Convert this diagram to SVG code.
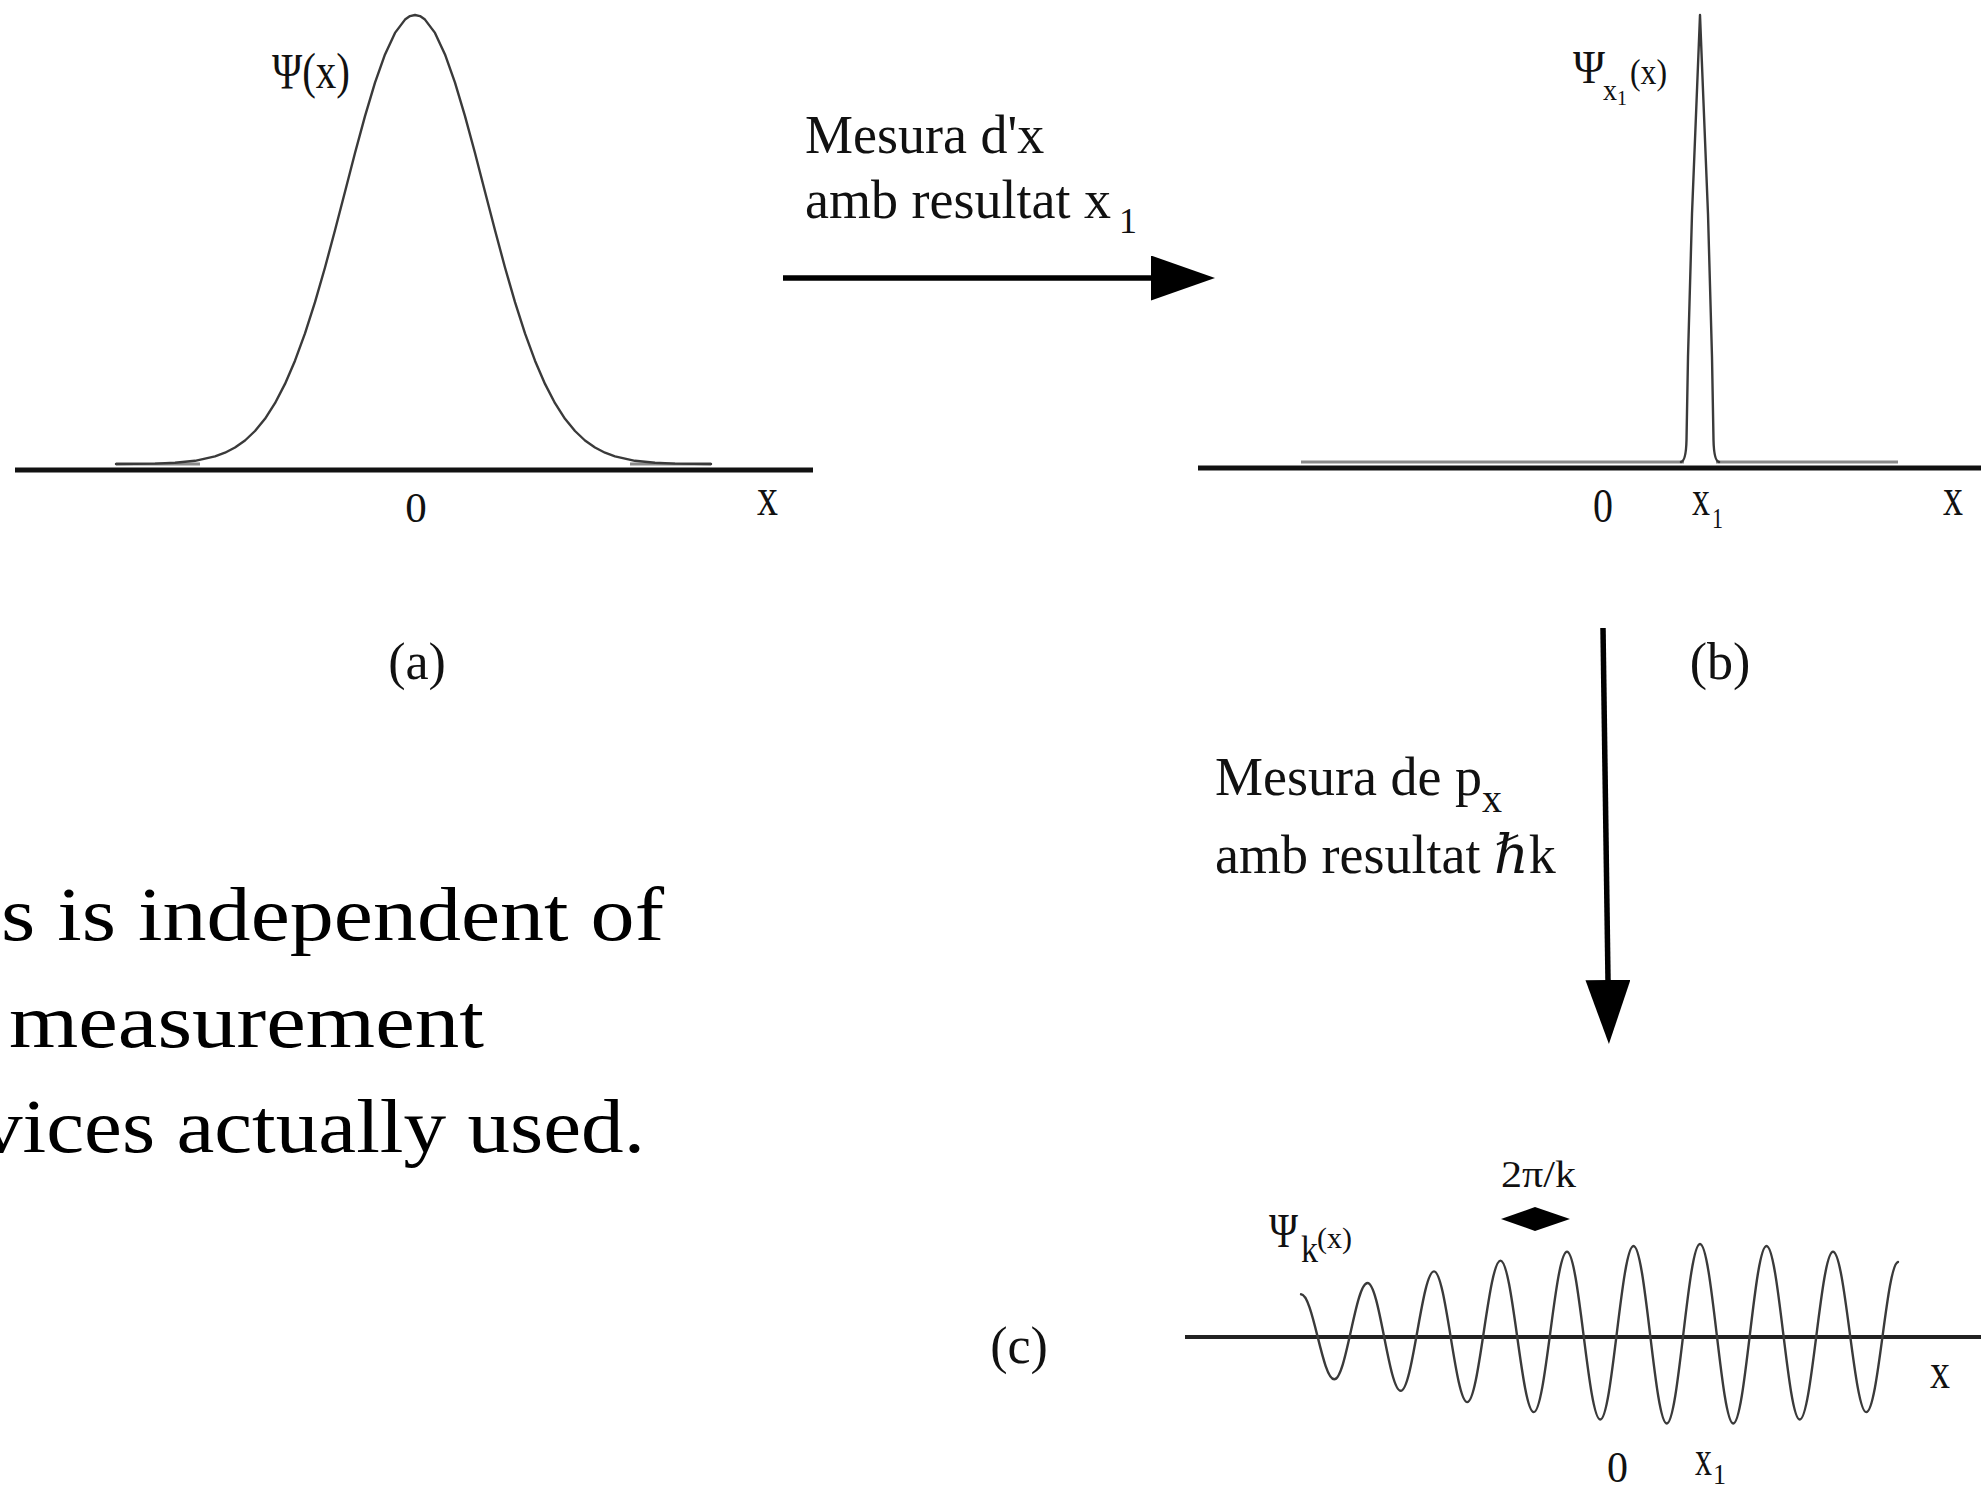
<svg xmlns="http://www.w3.org/2000/svg" width="1981" height="1486" viewBox="0 0 1981 1486">
<defs>
<style>
.t{font-family:"Liberation Serif","Times New Roman","DejaVu Serif",serif;fill:#111}
.body{font-family:"Liberation Serif","DejaVu Serif",serif;fill:#000;font-size:76px}
.axis{stroke:#111;stroke-width:5;fill:none}
.curve{stroke:#3a3a3a;stroke-width:2.4;fill:none;stroke-linejoin:round;stroke-linecap:round}
.tail{stroke:#8a8a8a;stroke-width:3;fill:none}
.arrow{stroke:#000;stroke-width:5.5;fill:none}
.mid{text-anchor:middle}
</style>
<marker id="head" markerUnits="userSpaceOnUse" markerWidth="66" markerHeight="46" refX="0" refY="22.5" orient="auto">
<path d="M0,0 L64,22.5 L0,45 Z" fill="#000"/>
</marker>
</defs>
<rect width="1981" height="1486" fill="#fff"/>

<g id="panel-a">
<line class="axis" x1="15" y1="470" x2="813" y2="470"/>
<line class="tail" x1="116" y1="464" x2="200" y2="464"/>
<line class="tail" x1="630" y1="464" x2="711" y2="464"/>
<polyline class="curve" points="116,464 155,463.6 175,462.7 195,460.8 215,456.4 225,452.7 235,447.5 245,440.5 255,431 265,418.8 275,403.2 285,383.9 295,360.7 305,333.4 315,302.2 325,267.5 335,230.3 345,191.7 355,153 365,116.1 375,82.6 385,54.4 395,32.9 405,19.6 410,16.1 415,15 420,16.1 425,19.6 435,32.9 445,54.4 455,82.6 465,116.1 475,153 485,191.7 495,230.3 505,267.5 515,302.2 525,333.4 535,360.7 545,383.9 555,403.2 565,418.8 575,431 585,440.5 595,447.5 605,452.7 615,456.4 635,460.8 655,462.7 675,463.6 711,464"/>
<text class="t" x="272" y="88" font-size="50" textLength="78" lengthAdjust="spacingAndGlyphs">Ψ(x)</text>
<text class="t mid" x="416" y="522" font-size="43">0</text>
<text class="t" x="757" y="515" font-size="54" textLength="21" lengthAdjust="spacingAndGlyphs">x</text>
<text class="t mid" x="417" y="679" font-size="52">(a)</text>
</g>

<g id="panel-b">
<line class="axis" x1="1198" y1="468" x2="1981" y2="468"/>
<line class="tail" x1="1301" y1="462" x2="1684" y2="462"/>
<line class="tail" x1="1716" y1="462" x2="1898" y2="462"/>
<path class="curve" d="M1681,462 Q1686,461 1686.5,440 L1688,357 L1692,214 L1696.6,100 L1700,15 L1703.4,100 L1708,214 L1712,357 L1713.5,440 Q1714,461 1719,462"/>
<text class="t" x="1573" y="83" font-size="47" textLength="32" lengthAdjust="spacingAndGlyphs">Ψ</text>
<text class="t" x="1603" y="100" font-size="30" textLength="14" lengthAdjust="spacingAndGlyphs">x</text>
<text class="t" x="1617" y="105" font-size="22" textLength="10" lengthAdjust="spacingAndGlyphs">1</text>
<text class="t" x="1630" y="84" font-size="36" textLength="37" lengthAdjust="spacingAndGlyphs">(x)</text>
<text class="t" x="1593" y="522" font-size="48" textLength="20" lengthAdjust="spacingAndGlyphs">0</text>
<text class="t" x="1692" y="515" font-size="51" textLength="18" lengthAdjust="spacingAndGlyphs">x</text>
<text class="t" x="1712" y="528" font-size="30" textLength="11" lengthAdjust="spacingAndGlyphs">1</text>
<text class="t" x="1943" y="515" font-size="54" textLength="20" lengthAdjust="spacingAndGlyphs">x</text>
<text class="t mid" x="1720" y="679" font-size="52">(b)</text>
</g>

<g id="panel-c">
<line class="axis" x1="1185" y1="1337" x2="1981" y2="1337" style="stroke-width:4;stroke:#222"/>
<path class="curve" d="M1301,1294.3 C1313.1,1294.3 1322.2,1379.3 1334.25,1379.3 C1346.3,1379.3 1355.4,1283 1367.5,1283 C1379.6,1283 1388.7,1390.8 1400.75,1390.8 C1412.8,1390.8 1421.9,1271.4 1434,1271.4 C1446.1,1271.4 1455.2,1402.1 1467.25,1402.1 C1479.3,1402.1 1488.4,1260.6 1500.5,1260.6 C1512.6,1260.6 1521.7,1412.1 1533.75,1412.1 C1545.8,1412.1 1554.9,1251.8 1567,1251.8 C1579.1,1251.8 1588.2,1419.5 1600.25,1419.5 C1612.3,1419.5 1621.4,1246 1633.5,1246 C1645.6,1246 1654.7,1423.5 1666.75,1423.5 C1678.8,1423.5 1687.9,1244 1700,1244 C1712.1,1244 1721.2,1423.5 1733.25,1423.5 C1745.3,1423.5 1754.4,1246 1766.5,1246 C1778.6,1246 1787.7,1419.5 1799.75,1419.5 C1811.8,1419.5 1820.9,1251.8 1833,1251.8 C1845.1,1251.8 1854.2,1412.1 1866.25,1412.1 C1878.3,1412.1 1886.5,1264 1898,1262"/>
<text class="t" x="1269" y="1247" font-size="48" textLength="29" lengthAdjust="spacingAndGlyphs">Ψ</text>
<text class="t" x="1301" y="1262" font-size="38" textLength="17" lengthAdjust="spacingAndGlyphs">k</text>
<text class="t" x="1317" y="1248" font-size="30" textLength="35" lengthAdjust="spacingAndGlyphs">(x)</text>
<text class="t" x="1501" y="1187" font-size="37" textLength="75" lengthAdjust="spacingAndGlyphs">2π/k</text>
<polygon points="1501,1219 1535,1207 1570,1219 1535,1231" fill="#000"/>
<text class="t" x="1930" y="1388" font-size="50" textLength="20" lengthAdjust="spacingAndGlyphs">x</text>
<text class="t" x="1607" y="1482" font-size="44" textLength="21" lengthAdjust="spacingAndGlyphs">0</text>
<text class="t" x="1695" y="1475" font-size="50" textLength="17" lengthAdjust="spacingAndGlyphs">x</text>
<text class="t" x="1713" y="1484" font-size="30" textLength="13" lengthAdjust="spacingAndGlyphs">1</text>
<text class="t mid" x="1019" y="1363" font-size="52">(c)</text>
</g>

<g id="connectors">
<g id="arrow-measure-x">
<line class="arrow" x1="783" y1="278" x2="1151" y2="278" marker-end="url(#head)"/>
<text class="t" x="805" y="153" font-size="54">Mesura d'x</text>
<text class="t" x="805" y="218" font-size="54">amb resultat x<tspan font-size="36" dx="8" dy="15">1</tspan></text>
</g>
<g id="arrow-measure-p">
<line class="arrow" x1="1603" y1="628" x2="1608" y2="980" marker-end="url(#head)"/>
<text class="t" x="1215" y="795" font-size="54">Mesura de p<tspan font-size="40" dy="17">x</tspan></text>
<text class="t" x="1215" y="873" font-size="54">amb resultat ℏk</text>
</g>
</g>

<g id="body-text">
<text class="body" x="1" y="940" textLength="663" lengthAdjust="spacingAndGlyphs">s is independent of</text>
<text class="body" x="9" y="1047" textLength="475" lengthAdjust="spacingAndGlyphs">measurement</text>
<text class="body" x="-20" y="1152" textLength="665" lengthAdjust="spacingAndGlyphs">vices actually used.</text>
</g>
</svg>
